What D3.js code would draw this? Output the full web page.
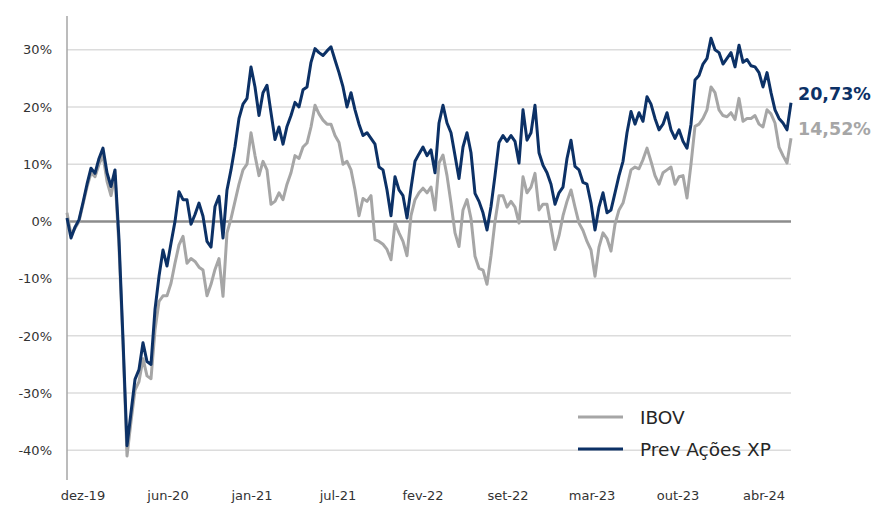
<!DOCTYPE html>
<html><head><meta charset="utf-8">
<script src="https://cdn.jsdelivr.net/npm/d3@7"></script>
<style>body{margin:0;background:#fff}svg{display:block}text{font-family:"DejaVu Sans",Verdana,sans-serif}</style>
</head><body><svg id="c" width="896" height="505"></svg>
<script>
// Cumulative return (%), sampled at regular steps
const prevAcoesXP = [0.6,-2.9,-1.0,0.3,3.3,6.5,9.3,8.4,11.0,12.8,8.5,6.1,9.0,-3.2,-20.6,-39.2,-33.4,-27.6,-25.9,-21.2,-24.5,-25.0,-15.4,-9.6,-5.0,-7.8,-3.8,0.0,5.2,3.8,
3.8,-0.5,1.2,3.2,0.9,-3.5,-4.5,2.6,4.4,-2.9,5.5,9.0,13.1,18.0,20.5,21.5,27.0,23.5,18.5,22.5,23.8,19.0,14.3,16.5,13.5,16.6,18.5,20.8,20.0,23.0,
23.5,27.8,30.2,29.5,29.0,29.8,30.5,28.2,26.0,23.5,20.0,22.5,19.5,17.0,15.0,15.5,14.5,13.5,9.5,9.0,5.5,1.0,7.8,5.5,4.5,0.6,5.8,10.5,11.8,13.0,
11.5,12.5,8.5,17.2,20.3,17.2,15.5,11.5,7.5,13.0,15.5,12.0,4.9,3.5,1.5,-1.5,2.6,8.0,13.8,15.0,14.0,15.0,14.0,10.2,19.5,14.2,15.5,20.3,12.0,9.8,
8.5,6.5,3.0,5.0,6.0,11.0,14.2,9.6,9.0,6.8,6.5,3.2,-1.5,2.5,5.0,1.5,2.0,5.0,8.0,10.5,15.5,19.2,17.0,19.0,17.5,21.8,20.5,18.0,16.0,17.0,
19.0,16.0,14.5,16.0,14.0,12.8,17.0,24.7,25.5,27.5,28.5,32.0,30.0,29.5,27.5,28.5,29.5,27.0,30.8,27.8,28.3,27.2,27.0,26.0,23.5,26.0,22.5,19.5,18.0,17.2,16.0,20.73];
const ibov = [1.5,-2.3,-1.2,0.0,3.0,6.0,8.5,7.8,10.0,11.5,7.0,4.5,8.0,-4.5,-21.5,-41.0,-35.0,-29.5,-28.0,-24.0,-27.0,-27.5,-19.0,-14.0,-13.0,-13.0,-10.8,-7.3,-4.1,-2.6,
-7.3,-6.5,-7.0,-8.0,-8.5,-13.0,-11.0,-8.4,-6.5,-13.1,-2.0,0.5,3.5,6.5,9.0,10.0,15.5,11.5,8.0,10.5,9.0,3.0,3.5,5.0,3.8,6.5,8.5,11.5,11.0,13.0,
13.7,16.5,20.3,18.8,17.7,17.0,17.0,15.0,13.8,10.0,10.5,9.0,5.5,1.0,4.0,3.5,4.5,-3.2,-3.5,-4.0,-4.9,-6.7,-0.3,-2.0,-3.5,-6.0,1.0,3.8,5.0,5.8,
5.0,6.0,2.0,10.2,11.6,8.0,3.2,-2.0,-4.4,2.0,3.8,0.5,-6.1,-8.2,-8.5,-11.0,-6.0,0.0,4.5,4.5,2.5,3.5,2.5,-0.3,7.8,5.0,6.0,8.4,2.0,3.0,
3.0,-1.0,-4.9,-2.5,1.0,3.5,5.5,2.5,-0.3,-1.6,-3.5,-5.0,-9.6,-4.5,-2.0,-3.0,-5.2,-0.5,2.0,3.2,6.0,9.0,9.5,9.2,10.8,12.8,10.5,8.0,6.5,8.5,
9.0,9.5,6.5,7.8,8.0,4.1,10.0,16.6,17.0,18.0,19.5,23.5,22.5,19.5,18.5,18.3,19.0,17.8,21.5,17.5,18.0,18.0,18.5,17.0,16.5,19.5,18.8,17.2,13.0,11.5,10.2,14.52];
const xLabels = ["dez-19","jun-20","jan-21","jul-21","fev-22","set-22","mar-23","out-23","abr-24"];
const xLabelIdx = [4,25.25,46.25,67.75,89,110.25,131.25,152.75,174.25];
const yTicks = [-40,-30,-20,-10,0,10,20,30];
const seriesNames = ["IBOV","Prev Ações XP"];
const endLabels = ["20,73%","14,52%"];

const NAVY="#0c3166", GRAY="#a6a6a6";
const svg = d3.select("#c");
const x = d3.scaleLinear().domain([0, prevAcoesXP.length-1]).range([67, 791]);
const y = d3.scaleLinear().domain([-45.2, 35.9]).range([480, 16]);

// gridlines
svg.append("g").selectAll("line").data(yTicks.filter(d=>d!==0)).join("line")
  .attr("x1",67).attr("x2",791).attr("y1",d=>y(d)).attr("y2",d=>y(d))
  .attr("stroke","#dcdcdc").attr("stroke-width",1.5);
// y labels
svg.append("g").selectAll("text").data(yTicks).join("text")
  .attr("x",52).attr("y",d=>y(d)).attr("dy","0.36em").attr("text-anchor","end")
  .attr("font-size",13).attr("fill","#333").text(d=>d+"%");
// x labels
svg.append("g").selectAll("text").data(xLabels).join("text")
  .attr("x",(d,i)=>x(xLabelIdx[i])).attr("y",500).attr("text-anchor","middle")
  .attr("font-size",13).attr("fill","#333").text(d=>d);
// axis line
svg.append("line").attr("x1",67).attr("x2",67).attr("y1",16).attr("y2",480)
  .attr("stroke","#a6a6a6").attr("stroke-width",1.5);
// zero line
svg.append("line").attr("x1",67).attr("x2",791).attr("y1",y(0)).attr("y2",y(0))
  .attr("stroke","#8c8c8c").attr("stroke-width",2.5);

const line = d3.line().x((d,i)=>x(i)).y(d=>y(d));
svg.append("path").datum(ibov).attr("d",line).attr("fill","none")
  .attr("stroke",GRAY).attr("stroke-width",3).attr("stroke-linejoin","round");
svg.append("path").datum(prevAcoesXP).attr("d",line).attr("fill","none")
  .attr("stroke",NAVY).attr("stroke-width",3).attr("stroke-linejoin","round");

// end labels
svg.append("text").attr("x",798).attr("y",94).attr("dy","0.36em").attr("font-size",17.5)
  .attr("font-weight","bold").attr("fill",NAVY).text(endLabels[0]);
svg.append("text").attr("x",798).attr("y",129).attr("dy","0.36em").attr("font-size",17.5)
  .attr("font-weight","bold").attr("fill","#a6a6a6").text(endLabels[1]);

// legend
const leg = svg.append("g");
[GRAY,NAVY].forEach((c,i)=>{
  const ly = 417 + i*32;
  leg.append("line").attr("x1",578).attr("x2",623).attr("y1",ly).attr("y2",ly)
    .attr("stroke",c).attr("stroke-width",3);
  leg.append("text").attr("x",640).attr("y",ly).attr("dy","0.36em").attr("font-size",18.5)
    .attr("fill","#262626").text(seriesNames[i]);
});
</script></body></html>
